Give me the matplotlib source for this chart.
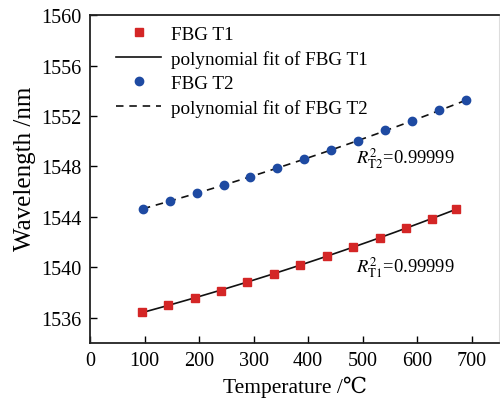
import numpy as np
import matplotlib
matplotlib.use("Agg")
import matplotlib.pyplot as plt

plt.rcParams['font.family'] = ['Liberation Serif', 'DejaVu Serif']
plt.rcParams['mathtext.fontset'] = 'stix'

# data
temp_t1 = [96, 143, 192, 240, 288, 337, 386, 434, 483, 531, 579, 627, 672]
wl_t1 = [1536.45, 1537.00, 1537.56, 1538.16, 1538.83, 1539.49, 1540.18,
         1540.92, 1541.64, 1542.35, 1543.12, 1543.86, 1544.60]
temp_t2 = [97, 147, 196, 246, 294, 343, 393, 442, 491, 541, 590, 640, 690]
wl_t2 = [1544.66, 1545.24, 1545.91, 1546.51, 1547.20, 1547.86, 1548.58,
         1549.32, 1550.01, 1550.86, 1551.60, 1552.45, 1553.24]

x_ticks = [0, 100, 200, 300, 400, 500, 600, 700]
y_ticks = [1536, 1540, 1544, 1548, 1552, 1556, 1560]

red = '#d42626'
blue = '#1e4aa2'

fig = plt.figure(figsize=(5, 4.02), dpi=100)
ax = fig.add_axes([0.18, 0.144, 0.818, 0.816])

# polynomial fits
p1 = np.polyfit(temp_t1, wl_t1, 2)
p2 = np.polyfit(temp_t2, wl_t2, 2)
xf1 = np.linspace(temp_t1[0], temp_t1[-1], 200)
xf2 = np.linspace(temp_t2[0], temp_t2[-1], 200)

ax.plot(temp_t1, wl_t1, 's', color=red, ms=5.5, mec=red, label='FBG T1', zorder=3)
ax.plot(xf1, np.polyval(p1, xf1), '-', color='#111111', lw=1.2,
        label='polynomial fit of FBG T1', zorder=2)
ax.plot(temp_t2, wl_t2, 'o', color=blue, ms=6, mec=blue, label='FBG T2', zorder=3)
ax.plot(xf2, np.polyval(p2, xf2), '--', color='#111111', lw=1.2, dashes=(4.5, 3.5),
        label='polynomial fit of FBG T2', zorder=2)

ax.text(488, 1548.7, r'$R^2_{\mathrm{T2}}$=0.99999', fontsize=13.3, va='center')
ax.text(488, 1540.05, r'$R^2_{\mathrm{T1}}$=0.99999', fontsize=13.3, va='center')

ax.set_xlim(0, 750)
ax.set_ylim(1534, 1560)
ax.set_xticks(x_ticks)
ax.set_yticks(y_ticks)
ax.tick_params(direction='in', labelsize=14.5, length=5, width=1, pad=6,
               top=False, right=False)
ax.set_xlabel('Temperature /\u2103', fontsize=15.5, labelpad=4)
ax.set_ylabel('Wavelength /nm', fontsize=18)
ax.yaxis.set_label_coords(-0.132, 0.535)

for s in ['left', 'bottom', 'top']:
    ax.spines[s].set_linewidth(1.3)
    ax.spines[s].set_color('#222222')
ax.spines['right'].set_color('#dddddd')

ax.legend(loc='upper left', frameon=False, fontsize=13.8, handlelength=2.35,
          handletextpad=0.5, labelspacing=0.36, borderaxespad=0, borderpad=0,
          bbox_to_anchor=(0.064, 0.968))

fig.savefig('out.png', dpi=100)
